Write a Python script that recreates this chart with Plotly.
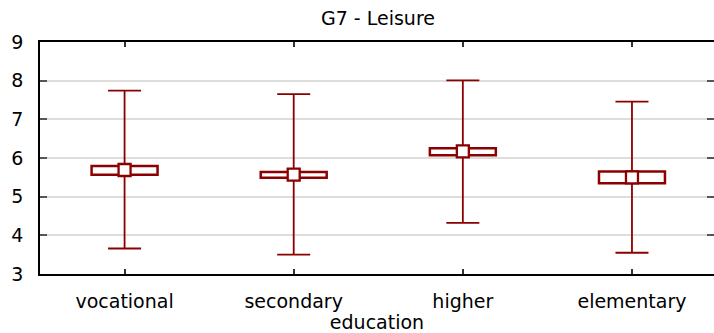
import plotly.graph_objects as go

categories = ["vocational", "secondary", "higher", "elementary"]
means = [5.69, 5.57, 6.17, 5.50]
box_lo = [5.57, 5.49, 6.07, 5.35]
box_hi = [5.79, 5.64, 6.25, 5.65]
whisk_lo = [3.66, 3.50, 4.32, 3.55]
whisk_hi = [7.74, 7.65, 8.01, 7.46]
y_ticks = [3, 4, 5, 6, 7, 8, 9]

RED = "#8b0000"
FONT = "DejaVu Sans"
xpos = list(range(len(categories)))

fig = go.Figure()

# whiskers (error bars around the mean)
fig.add_trace(go.Scatter(
    x=xpos, y=means, mode="markers",
    marker=dict(size=1, opacity=0),
    error_y=dict(type="data", symmetric=False,
                 array=[h - m for h, m in zip(whisk_hi, means)],
                 arrayminus=[m - l for m, l in zip(means, whisk_lo)],
                 color=RED, thickness=1.8, width=16.5),
    showlegend=False, hoverinfo="skip"))

# boxes
fig.add_trace(go.Bar(
    x=xpos, y=[h - l for h, l in zip(box_hi, box_lo)], base=box_lo,
    width=0.39,
    marker=dict(color="white", line=dict(color=RED, width=2.5)),
    showlegend=False))

# mean markers
fig.add_trace(go.Scatter(
    x=xpos, y=means, mode="markers",
    marker=dict(symbol="square", size=12, color="white",
                line=dict(color=RED, width=2.3)),
    showlegend=False))

fig.update_layout(
    width=714, height=333,
    margin=dict(l=40, r=0, t=42, b=59, autoexpand=False),
    plot_bgcolor="white", paper_bgcolor="white",
    font=dict(family=FONT, size=19, color="black"),
    title=dict(text="G7 - Leisure", x=378 / 714, xanchor="center",
               y=1 - 18 / 333, yanchor="middle", yref="container",
               font=dict(family=FONT, size=19, color="black")),
    barmode="overlay",
)

fig.update_xaxes(
    range=[-0.5, 3.485], automargin=False,
    tickmode="array", tickvals=xpos, ticktext=categories,
    showline=True, linecolor="black", linewidth=1.5, mirror="ticks",
    ticks="inside", ticklen=5, tickcolor="#333", tickwidth=1.5,
    showgrid=False, zeroline=False,
    ticklabelstandoff=9,
    title=dict(text="education", standoff=0, font=dict(family=FONT, size=19)),
)
fig.update_yaxes(
    range=[3, 9], automargin=False,
    tickmode="array", tickvals=y_ticks,
    showline=True, linecolor="black", linewidth=1.5, mirror="ticks",
    ticks="inside", ticklen=7, tickcolor="#555", tickwidth=1.5,
    showgrid=True, gridcolor="#dddddd", gridwidth=1.5, zeroline=False,
    ticklabelstandoff=11,
)

fig.write_html("out.html",
               config={"displayModeBar": False},
               post_script="document.body.style.margin='0';document.body.style.overflow='hidden';")
